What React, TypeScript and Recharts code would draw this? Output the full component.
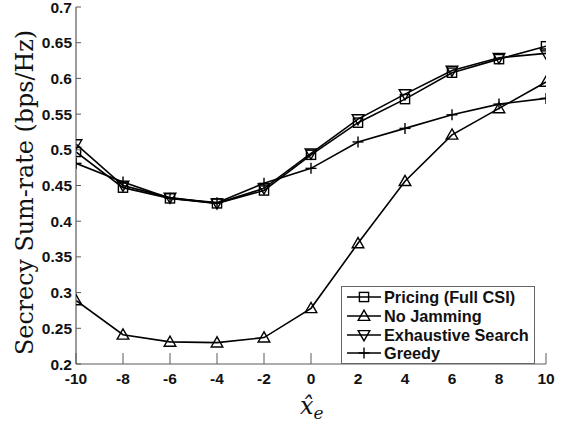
import React from "react";
import { LineChart, Line, XAxis, YAxis, Legend } from "recharts";

const xValues = [-10, -8, -6, -4, -2, 0, 2, 4, 6, 8, 10];
const pricing = [0.497, 0.447, 0.432, 0.425, 0.443, 0.493, 0.538, 0.571, 0.608, 0.627, 0.645];
const noJamming = [0.289, 0.241, 0.231, 0.23, 0.237, 0.278, 0.369, 0.456, 0.521, 0.558, 0.595];
const exhaustive = [0.508, 0.45, 0.433, 0.425, 0.446, 0.495, 0.543, 0.578, 0.611, 0.629, 0.635];
const greedy = [0.481, 0.455, 0.432, 0.426, 0.453, 0.474, 0.511, 0.53, 0.549, 0.564, 0.572];
const yTicks = [0.2, 0.25, 0.3, 0.35, 0.4, 0.45, 0.5, 0.55, 0.6, 0.65, 0.7];
const yTickLabels = ["0.2", "0.25", "0.3", "0.35", "0.4", "0.45", "0.5", "0.55", "0.6", "0.65", "0.7"];

const seriesNames = ["Pricing (Full CSI)", "No Jamming", "Exhaustive Search", "Greedy"];
const seriesKeys = ["pricing", "noJamming", "exhaustive", "greedy"];
const markerTypes = ["square", "triangle", "invtriangle", "plus"];

const data = xValues.map((x, i) => ({
  x,
  pricing: pricing[i],
  noJamming: noJamming[i],
  exhaustive: exhaustive[i],
  greedy: greedy[i],
}));

const tickFont = "'Liberation Sans', Arial, sans-serif";
const axisColor = "#5a5a5a";

function Marker({ type, cx, cy }: { type: string; cx: number; cy: number }) {
  const s = 4.6;
  const common = { fill: "none", stroke: "#000", strokeWidth: 1.4 };
  if (type === "square") {
    return <rect x={cx - s} y={cy - s} width={2 * s} height={2 * s} {...common} />;
  }
  if (type === "triangle") {
    const t = 5.8;
    return (
      <polygon
        points={`${cx},${cy - t} ${cx - t},${cy + t * 0.75} ${cx + t},${cy + t * 0.75}`}
        {...common}
      />
    );
  }
  if (type === "invtriangle") {
    const t = 5.8;
    return (
      <polygon
        points={`${cx},${cy + t} ${cx - t},${cy - t * 0.75} ${cx + t},${cy - t * 0.75}`}
        {...common}
      />
    );
  }
  return (
    <g {...common}>
      <line x1={cx - 5.5} x2={cx + 5.5} y1={cy} y2={cy} />
      <line x1={cx} x2={cx} y1={cy - 5.5} y2={cy + 5.5} />
    </g>
  );
}

const makeDot = (type: string) => (props: any) => {
  const { cx, cy, index } = props;
  if (cx == null || cy == null) return <g key={`d-${type}-${index}`} />;
  return (
    <g key={`d-${type}-${index}`}>
      <Marker type={type} cx={cx} cy={cy} />
    </g>
  );
};

const BottomTick = (props: any) => {
  const { x, y, payload } = props;
  return (
    <g>
      <line x1={x} x2={x} y1={y} y2={y - 11} stroke={axisColor} strokeWidth={1} />
      <text
        x={x}
        y={y + 20}
        textAnchor="middle"
        fontFamily={tickFont}
        fontWeight="bold"
        fontSize={15.5}
        fill="#111"
      >
        {payload.value}
      </text>
    </g>
  );
};

const TopTick = (props: any) => {
  const { x, y } = props;
  return <line x1={x} x2={x} y1={y} y2={y + 12} stroke={axisColor} strokeWidth={1} />;
};

const LeftTick = (props: any) => {
  const { x, y, payload, index } = props;
  return (
    <g>
      <line x1={x} x2={x + 5} y1={y} y2={y} stroke={axisColor} strokeWidth={1} />
      <text
        x={x - 4}
        y={y + 5.5}
        textAnchor="end"
        fontFamily={tickFont}
        fontWeight="bold"
        fontSize={15.5}
        fill="#111"
      >
        {yTickLabels[index] ?? payload.value}
      </text>
    </g>
  );
};

const RightTick = (props: any) => {
  const { x, y } = props;
  return <line x1={x} x2={x - 5} y1={y} y2={y} stroke={axisColor} strokeWidth={1} />;
};

const LegendContent = () => (
  <div
    style={{
      width: 194,
      height: 78,
      boxSizing: "border-box",
      border: "1px solid #666",
      background: "#fff",
      paddingTop: 1,
      paddingLeft: 4,
    }}
  >
    {seriesNames.map((name, i) => (
      <div key={name} style={{ display: "flex", alignItems: "center", height: 18.7 }}>
        <svg width={38} height={18} style={{ display: "block" }}>
          <line x1={1} x2={35} y1={9} y2={9} stroke="#000" strokeWidth={1.5} />
          <Marker type={markerTypes[i]} cx={18} cy={9} />
        </svg>
        <span
          style={{
            fontFamily: tickFont,
            fontWeight: "bold",
            fontSize: 16.3,
            color: "#111",
            lineHeight: "18px",
            whiteSpace: "nowrap",
          }}
        >
          {name}
        </span>
      </div>
    ))}
  </div>
);

export default function App() {
  return (
    <div style={{ position: "absolute", left: 0, top: 0, width: 569, height: 424, background: "#fff" }}>
      <LineChart
        width={569}
        height={424}
        data={data}
        margin={{ top: 7, right: 23, bottom: 0, left: 0 }}
      >
        <XAxis
          dataKey="x"
          type="number"
          domain={[-10, 10]}
          ticks={xValues}
          interval={0}
          height={60}
          tickSize={0}
          tickMargin={0}
          tickLine={false}
          axisLine={{ stroke: axisColor, strokeWidth: 1.2 }}
          tick={BottomTick}
          allowDataOverflow
          label={(p: any) => {
            const vb = p.viewBox || {};
            const cx = (vb.x ?? 76) + (vb.width ?? 470) / 2;
            const top = vb.y ?? 364;
            return (
              <text
                x={cx - 11}
                y={top + 50}
                fontFamily="'DejaVu Serif', 'Liberation Serif', serif"
                fontStyle="italic"
                fontSize={24}
                fill="#111"
              >
                <tspan>{"x\u0302"}</tspan>
                <tspan dy={5} fontSize={17}>e</tspan>
              </text>
            );
          }}
        />
        <XAxis
          xAxisId="top"
          orientation="top"
          dataKey="x"
          type="number"
          domain={[-10, 10]}
          ticks={xValues}
          interval={0}
          height={0}
          tickSize={0}
          tickMargin={0}
          tickLine={false}
          axisLine={{ stroke: axisColor, strokeWidth: 1.2 }}
          tick={TopTick}
        />
        <YAxis
          type="number"
          domain={[0.2, 0.7]}
          ticks={yTicks}
          interval={0}
          width={76}
          tickSize={0}
          tickMargin={0}
          tickLine={false}
          axisLine={{ stroke: axisColor, strokeWidth: 1.2 }}
          tick={LeftTick}
          allowDataOverflow
          label={(p: any) => {
            const vb = p.viewBox || {};
            const cy = (vb.y ?? 7) + (vb.height ?? 357) / 2 + 7;
            return (
              <text
                x={33}
                y={cy}
                transform={`rotate(-90, 33, ${cy})`}
                textAnchor="middle"
                fontFamily="'DejaVu Serif', 'Liberation Serif', serif"
                fontSize={24}
                textLength={325}
                lengthAdjust="spacingAndGlyphs"
                fill="#111"
              >
                Secrecy Sum-rate (bps/Hz)
              </text>
            );
          }}
        />
        <YAxis
          yAxisId="right"
          orientation="right"
          type="number"
          domain={[0.2, 0.7]}
          ticks={yTicks}
          interval={0}
          width={0}
          tickSize={0}
          tickMargin={0}
          tickLine={false}
          axisLine={{ stroke: axisColor, strokeWidth: 1.2 }}
          tick={RightTick}
        />
        <Legend
          layout="vertical"
          align="center"
          verticalAlign="middle"
          content={LegendContent}
          wrapperStyle={{ position: "absolute", left: 341, top: 286, width: 194, height: 78 }}
        />
        {seriesKeys.map((k, i) => (
          <Line
            key={k}
            dataKey={k}
            name={seriesNames[i]}
            type="linear"
            stroke="#000"
            strokeWidth={1.6}
            dot={makeDot(markerTypes[i])}
            activeDot={false}
            isAnimationActive={false}
          />
        ))}
      </LineChart>
    </div>
  );
}
